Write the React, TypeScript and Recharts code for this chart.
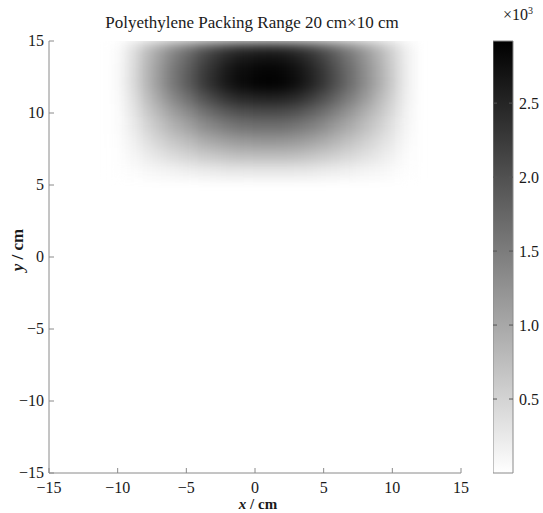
import React from 'react';
import { ScatterChart, Scatter, XAxis, YAxis, ComposedChart, ReferenceArea } from 'recharts';

// grid cell centres (cm) and the level read at each one (rows follow yCenters)
const xCenters = [-10, -9, -8, -7, -6, -5, -4, -3, -2, -1, 0, 1, 2, 3, 4, 5, 6, 7, 8, 9, 10, 11];
const yCenters = [15, 14, 13, 12, 11, 10, 9, 8, 7, 6];
const heat = [
  [40, 250, 560, 840, 1110, 1320, 1570, 1750, 1920, 2030, 2070, 2090, 2070, 1980, 1840, 1650, 1420, 1190, 940, 690, 420, 150],
  [50, 320, 720, 1070, 1410, 1680, 2000, 2240, 2450, 2590, 2640, 2670, 2640, 2530, 2350, 2110, 1810, 1520, 1200, 880, 530, 190],
  [60, 340, 780, 1150, 1520, 1810, 2150, 2410, 2640, 2780, 2840, 2870, 2840, 2730, 2530, 2270, 1950, 1640, 1290, 950, 570, 200],
  [60, 350, 780, 1160, 1540, 1830, 2180, 2440, 2670, 2810, 2870, 2900, 2870, 2760, 2550, 2290, 1970, 1650, 1310, 960, 580, 200],
  [50, 300, 680, 1010, 1340, 1590, 1890, 2120, 2320, 2450, 2500, 2520, 2500, 2400, 2220, 1990, 1720, 1440, 1140, 830, 500, 180],
  [40, 240, 550, 810, 1080, 1280, 1520, 1710, 1870, 1970, 2010, 2030, 2010, 1930, 1790, 1600, 1380, 1160, 910, 670, 410, 140],
  [30, 190, 440, 650, 860, 1020, 1220, 1360, 1490, 1580, 1610, 1620, 1610, 1540, 1430, 1280, 1100, 930, 730, 540, 320, 110],
  [20, 140, 320, 480, 630, 750, 890, 1000, 1090, 1150, 1180, 1190, 1180, 1130, 1050, 940, 810, 680, 540, 390, 240, 80],
  [15, 90, 200, 300, 400, 480, 570, 630, 690, 730, 750, 750, 750, 720, 660, 600, 510, 430, 340, 250, 150, 50],
  [10, 35, 80, 120, 150, 180, 220, 240, 270, 280, 290, 290, 290, 280, 260, 230, 200, 170, 130, 100, 60, 20],
];
const axisTicks = [-15, -10, -5, 0, 5, 10, 15];
const barTicks = [0.5, 1, 1.5, 2, 2.5];
const zMax = 2920;

const cells = yCenters.flatMap((y, r) => xCenters.map((x, c) => ({ x, y, v: heat[r][c] })));

const serif = '"Liberation Serif", "Times New Roman", serif';
const axisGray = '#8a8a8a';
const textColor = '#1a1a1a';
const margin = { top: 41, right: 82, bottom: 40, left: 49 };
const plotW = 543 - margin.left - margin.right;
const plotH = 513 - margin.top - margin.bottom;
const cellW = plotW / 30;
const cellH = plotH / 30;

const fmt = (v: number) => (v < 0 ? `\u2212${-v}` : `${v}`);

const HeatCell = (p: any) => {
  const g = Math.round(255 * (1 - p.payload.v / zMax));
  return (
    <rect
      x={p.cx - cellW / 2}
      y={p.cy - cellH / 2}
      width={cellW + 0.6}
      height={cellH + 0.6}
      fill={`rgb(${g},${g},${g})`}
    />
  );
};

const BottomTick = ({ x, y, payload }: any) => (
  <g>
    <line x1={x} y1={y} x2={x} y2={y - 5} stroke={axisGray} />
    <text x={x} y={y + 20} textAnchor="middle" fontSize={16} fill={textColor} fontFamily={serif}>
      {fmt(payload.value)}
    </text>
  </g>
);

const LeftTick = ({ x, y, payload }: any) => (
  <g>
    <line x1={x} y1={y} x2={x + 5} y2={y} stroke={axisGray} />
    <text x={x - 5} y={y} dy="0.3em" textAnchor="end" fontSize={16} fill={textColor} fontFamily={serif}>
      {fmt(payload.value)}
    </text>
  </g>
);

const TopTick = ({ x, y }: any) => <line x1={x} y1={y} x2={x} y2={y + 5} stroke={axisGray} />;
const RightTick = ({ x, y }: any) => <line x1={x} y1={y} x2={x - 5} y2={y} stroke={axisGray} />;

const BarTick = ({ x, y, payload }: any) => (
  <g>
    <line x1={x - 20} y1={y} x2={x - 16} y2={y} stroke="#555" />
    <line x1={x} y1={y} x2={x - 4} y2={y} stroke="#555" />
    <text x={x + 6} y={y} dy="0.35em" fontSize={16} fill={textColor} fontFamily={serif}>
      {payload.value.toFixed(1)}
    </text>
  </g>
);

export default function App() {
  const inset = `inset(${margin.top}px ${margin.right}px ${margin.bottom}px ${margin.left}px)`;
  return (
    <div style={{ position: 'absolute', left: 0, top: 0, width: 543, height: 513, background: '#fff', fontFamily: serif }}>
      {/* heat field: blurred to smooth the 1 cm grid, then clipped to the plot box */}
      <div style={{ position: 'absolute', left: 0, top: 0, filter: 'blur(6px)', clipPath: inset }}>
        <ScatterChart width={543} height={513} margin={margin}>
          <XAxis type="number" dataKey="x" domain={[-15, 15]} allowDataOverflow hide />
          <YAxis type="number" dataKey="y" domain={[-15, 15]} allowDataOverflow hide />
          <Scatter data={cells} shape={(p: any) => <HeatCell {...p} />} isAnimationActive={false} />
        </ScatterChart>
      </div>

      {/* axes box, ticks and labels */}
      <div style={{ position: 'absolute', left: 0, top: 0 }}>
        <ScatterChart width={543} height={513} margin={{ top: 41, right: 82, bottom: 0, left: 0 }}>
          <XAxis
            type="number"
            dataKey="x"
            domain={[-15, 15]}
            ticks={axisTicks}
            interval={0}
            allowDataOverflow
            height={40}
            stroke={axisGray}
            tickLine={false}
            tickSize={0}
            tickMargin={0}
            tick={(p: any) => <BottomTick {...p} />}
          />
          <XAxis
            xAxisId="top"
            orientation="top"
            type="number"
            domain={[-15, 15]}
            ticks={axisTicks}
            interval={0}
            allowDataOverflow
            height={0}
            stroke={axisGray}
            tickLine={false}
            tickSize={0}
            tickMargin={0}
            tick={(p: any) => <TopTick {...p} />}
          />
          <YAxis
            type="number"
            dataKey="y"
            domain={[-15, 15]}
            ticks={axisTicks}
            interval={0}
            allowDataOverflow
            width={49}
            stroke={axisGray}
            tickLine={false}
            tickSize={0}
            tickMargin={0}
            tick={(p: any) => <LeftTick {...p} />}
          />
          <YAxis
            yAxisId="right"
            orientation="right"
            type="number"
            domain={[-15, 15]}
            ticks={axisTicks}
            interval={0}
            allowDataOverflow
            width={0}
            stroke={axisGray}
            tickLine={false}
            tickSize={0}
            tickMargin={0}
            tick={(p: any) => <RightTick {...p} />}
          />
          <text x={252} y={28} textAnchor="middle" fontSize={17} fill={textColor} fontFamily={serif}>
            Polyethylene Packing Range 20 cm×10 cm
          </text>
          <text x={258} y={509} textAnchor="middle" fontSize={15} fontWeight="bold" fill={textColor} fontFamily={serif}>
            <tspan fontStyle="italic">x</tspan>
            <tspan> / cm</tspan>
          </text>
          <text
            x={23}
            y={250}
            transform="rotate(-90 23 250)"
            textAnchor="middle"
            fontSize={17}
            fontWeight="bold"
            fill={textColor}
            fontFamily={serif}
          >
            <tspan fontStyle="italic">y</tspan>
            <tspan> / cm</tspan>
          </text>
        </ScatterChart>
      </div>

      {/* colour bar */}
      <div style={{ position: 'absolute', left: 493, top: 0 }}>
        <ComposedChart width={50} height={513} margin={{ top: 41, right: 0, bottom: 40, left: 0 }}>
          <defs>
            <linearGradient id="cbar" x1="0" y1="0" x2="0" y2="1">
              <stop offset="0" stopColor="#000" />
              <stop offset="1" stopColor="#fff" />
            </linearGradient>
          </defs>
          <XAxis type="number" dataKey="x" domain={[0, 1]} hide allowDataOverflow />
          <YAxis
            type="number"
            orientation="right"
            domain={[0, zMax / 1000]}
            ticks={barTicks}
            interval={0}
            allowDataOverflow
            width={30}
            axisLine={false}
            tickLine={false}
            tickSize={0}
            tickMargin={0}
            tick={(p: any) => <BarTick {...p} />}
          />
          <ReferenceArea x1={0} x2={1} y1={0} y2={zMax / 1000} fill="url(#cbar)" fillOpacity={1} stroke={axisGray} ifOverflow="visible" />
        </ComposedChart>
      </div>
      <div style={{ position: 'absolute', left: 503, top: 5, fontSize: 16, color: textColor, fontFamily: serif }}>
        ×10<sup style={{ fontSize: 10 }}>3</sup>
      </div>
    </div>
  );
}
